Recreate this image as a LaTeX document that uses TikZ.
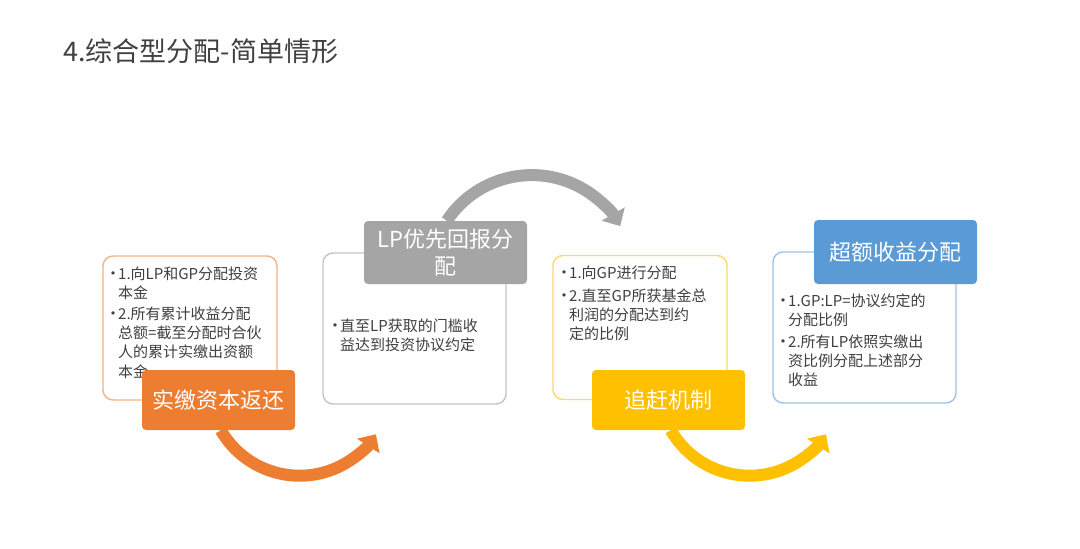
\documentclass[tikz,border=0pt]{standalone}
\usepackage{fontspec}
\newfontfamily\cjk{Noto Sans CJK SC}
\usetikzlibrary{arrows.meta,positioning}
\definecolor{accorange}{HTML}{ED7D31}
\definecolor{accgrey}{HTML}{A5A5A5}
\definecolor{accyellow}{HTML}{FFC000}
\definecolor{accblue}{HTML}{5B9BD5}
\definecolor{lineorange}{HTML}{F4B183}
\definecolor{linegrey}{HTML}{C4C4C4}
\definecolor{lineyellow}{HTML}{FFD966}
\definecolor{lineblue}{HTML}{9DC3E6}
\definecolor{bodygrey}{HTML}{404040}
\tikzset{
textbox/.style={draw, line width=1.4pt, rounded corners=10pt, fill=white,
    minimum width=174pt, minimum height=144pt},
header/.style={rounded corners=4pt, text=white, minimum width=153pt,
    minimum height=60pt, align=center, inner sep=2pt,
    font=\cjk\fontsize{22}{27}\selectfont},
bodytext/.style={text=bodygrey, inner sep=0pt, anchor=base west,
    font=\cjk\fontsize{15}{19.2}\selectfont},
flowarrow/.style={line width=12pt, -{Triangle[width=26pt,length=14pt]}}
}
\newcommand{\bul}{\makebox[12pt][l]{\hspace{-1pt}\fontsize{16}{16}\selectfont\textbullet}}

\begin{document}
\begin{tikzpicture}[x=1pt, y=-1pt]
	\useasboundingbox (0,0) rectangle (1080,549);
	\node[anchor=west, text=bodygrey, inner sep=0pt, font=\cjk\fontsize{27}{30}\selectfont]
		(title) at (63,51) {4.综合型分配-简单情形};

	% boxes
	\node[textbox, draw=lineorange] (b1) at (190,328) {};
	\node[textbox, draw=linegrey, minimum width=183pt, minimum height=151pt] (b2) at (414.5,328.5) {};
	\node[textbox, draw=lineyellow] (b3) at (640,327.5) {};
	\node[textbox, draw=lineblue, minimum width=183pt, minimum height=151pt] (b4) at (864.5,327.5) {};

	\node[bodytext] (t1) at (106,279) {\begin{tabular}[t]{@{}l@{}l@{}}
		\bul & 1.向LP和GP分配投资\\
		     & 本金\\[2pt]
		\bul & 2.所有累计收益分配\\
		     & 总额=截至分配时合伙\\
		     & 人的累计实缴出资额\\
		     & 本金
	\end{tabular}};
	\node[bodytext] (t2) at (328,331) {\begin{tabular}[t]{@{}l@{}l@{}}
		\bul & 直至LP获取的门槛收\\
		     & 益达到投资协议约定
	\end{tabular}};
	\node[bodytext] (t3) at (557,278) {\begin{tabular}[t]{@{}l@{}l@{}}
		\bul & 1.向GP进行分配\\[4pt]
		\bul & 2.直至GP所获基金总\\
		     & 利润的分配达到约\\
		     & 定的比例
	\end{tabular}};
	\node[bodytext] (t4) at (776,306) {\begin{tabular}[t]{@{}l@{}l@{}}
		\bul & 1.GP:LP=协议约定的\\
		     & 分配比例\\[3pt]
		\bul & 2.所有LP依照实缴出\\
		     & 资比例分配上述部分\\
		     & 收益
	\end{tabular}};

	% headers
	\node[header, fill=accorange] (h1) at (218.5,400) {实缴资本返还};
	\node[header, fill=accgrey, minimum width=163pt, minimum height=63pt] (h2) at (445.5,252.5) {LP优先回报分\\配};
	\node[header, fill=accyellow] (h3) at (668.5,400) {追赶机制};
	\node[header, fill=accblue, minimum width=163pt, minimum height=64pt] (h4) at (895.5,252) {超额收益分配};

	% arc arrows
	\draw[flowarrow, accorange] ([xshift=79pt]h1.south west) arc[start angle=210, end angle=327, radius=91pt];
	\draw[flowarrow, accgrey] ([xshift=83pt]h2.north west) arc[start angle=146.5, end angle=30, radius=102pt];
	\draw[flowarrow, accyellow] ([xshift=79pt]h3.south west) arc[start angle=210, end angle=327, radius=91pt];
\end{tikzpicture}
\end{document}
